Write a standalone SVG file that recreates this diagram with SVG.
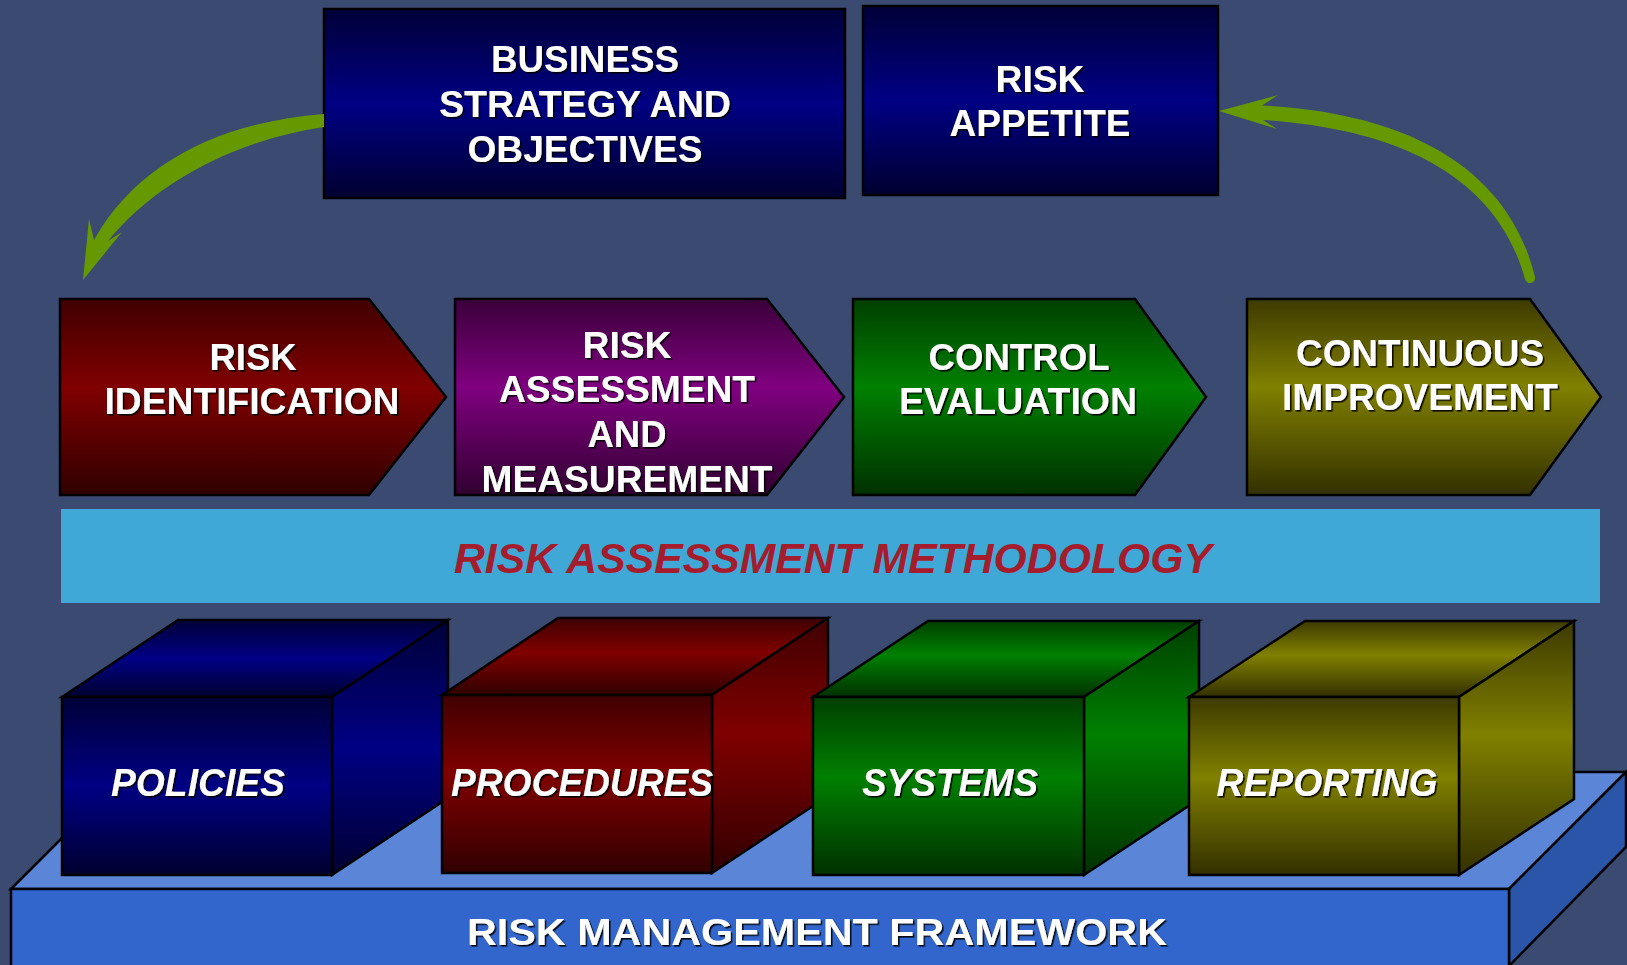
<svg xmlns="http://www.w3.org/2000/svg" width="1627" height="965" viewBox="0 0 1627 965">
  <defs>
    <!-- vertical "tube" shading: dark edges, bright middle -->
    <linearGradient id="gNavy" x1="0" y1="0" x2="0" y2="1">
      <stop offset="0" stop-color="#000038"/>
      <stop offset="0.5" stop-color="#000084"/>
      <stop offset="1" stop-color="#000030"/>
    </linearGradient>
    <linearGradient id="gRed" x1="0" y1="0" x2="0" y2="1">
      <stop offset="0" stop-color="#400000"/>
      <stop offset="0.45" stop-color="#800000"/>
      <stop offset="1" stop-color="#300000"/>
    </linearGradient>
    <linearGradient id="gPurple" x1="0" y1="0" x2="0" y2="1">
      <stop offset="0" stop-color="#3a003a"/>
      <stop offset="0.45" stop-color="#800080"/>
      <stop offset="1" stop-color="#300030"/>
    </linearGradient>
    <linearGradient id="gGreen" x1="0" y1="0" x2="0" y2="1">
      <stop offset="0" stop-color="#003f00"/>
      <stop offset="0.45" stop-color="#008000"/>
      <stop offset="1" stop-color="#003000"/>
    </linearGradient>
    <linearGradient id="gOlive" x1="0" y1="0" x2="0" y2="1">
      <stop offset="0" stop-color="#3d3a00"/>
      <stop offset="0.45" stop-color="#808000"/>
      <stop offset="1" stop-color="#333000"/>
    </linearGradient>
    <filter id="shadow" x="-5%" y="-20%" width="110%" height="140%">
      <feDropShadow dx="1.6" dy="1.6" stdDeviation="0.3" flood-color="#000000" flood-opacity="0.9"/>
    </filter>
  </defs>
  <style>
    .edge { stroke: #000000; stroke-width: 2.5; stroke-linejoin: miter; }
    .lbl { font-family: "Liberation Sans", Arial, sans-serif; font-weight: bold; fill: #ffffff; text-anchor: middle; filter: url(#shadow); }
    .top { font-size: 36px; }
    .chev { font-size: 37.5px; }
    .cube { font-size: 39px; font-style: italic; }
    .base { font-size: 37px; }
    .method { font-family: "Liberation Sans", Arial, sans-serif; font-weight: bold; font-style: italic; font-size: 43px; fill: #A51D2D; text-anchor: middle; }
    .flow { fill: #669900; }
  </style>

  <rect x="0" y="0" width="1627" height="965" fill="#3B4A70"/>

  <!-- top row -->
  <g id="business-strategy">
    <rect x="324" y="9" width="521" height="189" fill="url(#gNavy)" class="edge"/>
    <text class="lbl top" x="585" y="72" textLength="188" lengthAdjust="spacingAndGlyphs">BUSINESS</text>
    <text class="lbl top" x="585" y="117" textLength="292" lengthAdjust="spacingAndGlyphs">STRATEGY AND</text>
    <text class="lbl top" x="585" y="162" textLength="235" lengthAdjust="spacingAndGlyphs">OBJECTIVES</text>
  </g>
  <g id="risk-appetite">
    <rect x="863" y="6" width="355" height="189" fill="url(#gNavy)" class="edge"/>
    <text class="lbl top" x="1040" y="92" textLength="89" lengthAdjust="spacingAndGlyphs">RISK</text>
    <text class="lbl top" x="1040" y="136" textLength="181" lengthAdjust="spacingAndGlyphs">APPETITE</text>
  </g>

  <!-- process chevrons -->
  <g id="risk-identification">
    <polygon points="60,299 369,299 446,397 369,495 60,495" fill="url(#gRed)" class="edge"/>
    <text class="lbl chev" x="253" y="370" textLength="87" lengthAdjust="spacingAndGlyphs">RISK</text>
    <text class="lbl chev" x="252" y="414" textLength="295" lengthAdjust="spacingAndGlyphs">IDENTIFICATION</text>
  </g>
  <g id="risk-assessment">
    <polygon points="455,299 767,299 844,397 767,495 455,495" fill="url(#gPurple)" class="edge"/>
    <text class="lbl chev" x="627" y="358" textLength="89" lengthAdjust="spacingAndGlyphs">RISK</text>
    <text class="lbl chev" x="627" y="402" textLength="256" lengthAdjust="spacingAndGlyphs">ASSESSMENT</text>
    <text class="lbl chev" x="627" y="447" textLength="79" lengthAdjust="spacingAndGlyphs">AND</text>
    <text class="lbl chev" x="627" y="492" textLength="291" lengthAdjust="spacingAndGlyphs">MEASUREMENT</text>
  </g>
  <g id="control-evaluation">
    <polygon points="853,299 1135,299 1206,397 1135,495 853,495" fill="url(#gGreen)" class="edge"/>
    <text class="lbl chev" x="1019" y="370" textLength="181" lengthAdjust="spacingAndGlyphs">CONTROL</text>
    <text class="lbl chev" x="1018" y="414" textLength="238" lengthAdjust="spacingAndGlyphs">EVALUATION</text>
  </g>
  <g id="continuous-improvement">
    <polygon points="1247,299 1530,299 1601,397 1530,495 1247,495" fill="url(#gOlive)" class="edge"/>
    <text class="lbl chev" x="1420" y="366" textLength="248" lengthAdjust="spacingAndGlyphs">CONTINUOUS</text>
    <text class="lbl chev" x="1420" y="410" textLength="276" lengthAdjust="spacingAndGlyphs">IMPROVEMENT</text>
  </g>

  <!-- methodology band -->
  <g id="methodology">
    <rect x="61" y="509" width="1539" height="94" fill="#3FA8D7"/>
    <text class="method" x="833" y="573" textLength="758" lengthAdjust="spacingAndGlyphs">RISK ASSESSMENT METHODOLOGY</text>
  </g>

  <!-- framework platform -->
  <g id="framework">
    <polygon points="11,889 128,772 1626,772 1509,889" fill="#5B86D8" class="edge"/>
    <polygon points="1509,889 1626,772 1626,847 1509,966" fill="#2A55A8" class="edge"/>
    <rect x="11" y="889" width="1498" height="80" fill="#3366CC" class="edge"/>
    <text class="lbl base" x="817" y="945" textLength="700" lengthAdjust="spacingAndGlyphs">RISK MANAGEMENT FRAMEWORK</text>
  </g>

  <!-- building blocks -->
  <g id="policies">
    <polygon points="62,697 178,620 448,620 332,697" fill="url(#gNavy)" class="edge"/>
    <polygon points="332,697 448,620 448,798 332,875" fill="url(#gNavy)" class="edge"/>
    <rect x="62" y="697" width="270" height="178" fill="url(#gNavy)" class="edge"/>
    <text class="lbl cube" x="198" y="796" textLength="174" lengthAdjust="spacingAndGlyphs">POLICIES</text>
  </g>
  <g id="procedures">
    <polygon points="442,695 558,618 828,618 712,695" fill="url(#gRed)" class="edge"/>
    <polygon points="712,695 828,618 828,796 712,873" fill="url(#gRed)" class="edge"/>
    <rect x="442" y="695" width="270" height="178" fill="url(#gRed)" class="edge"/>
    <text class="lbl cube" x="582" y="796" textLength="262" lengthAdjust="spacingAndGlyphs">PROCEDURES</text>
  </g>
  <g id="systems">
    <polygon points="813,697 928,621 1199,621 1084,697" fill="url(#gGreen)" class="edge"/>
    <polygon points="1084,697 1199,621 1199,799 1084,875" fill="url(#gGreen)" class="edge"/>
    <rect x="813" y="697" width="271" height="178" fill="url(#gGreen)" class="edge"/>
    <text class="lbl cube" x="950" y="796" textLength="176" lengthAdjust="spacingAndGlyphs">SYSTEMS</text>
  </g>
  <g id="reporting">
    <polygon points="1189,697 1305,621 1574,621 1459,697" fill="url(#gOlive)" class="edge"/>
    <polygon points="1459,697 1574,621 1574,799 1459,875" fill="url(#gOlive)" class="edge"/>
    <rect x="1189" y="697" width="270" height="178" fill="url(#gOlive)" class="edge"/>
    <text class="lbl cube" x="1327" y="796" textLength="221" lengthAdjust="spacingAndGlyphs">REPORTING</text>
  </g>

  <!-- curved feedback arrows -->
  <g id="connectors">
    <path class="flow" d="M 324 114 C 222 122 138 162 94 240 L 89 219 L 83 280 L 122 232 L 108 241 C 156 182 236 140 324 127 Z"/>
    <path class="flow" d="M 1262 105.5 C 1392 112 1506 158 1535 277 A 5 5 0 0 1 1525 279 C 1495 170 1388 128 1263 120 L 1277 129 L 1219 111 L 1278 95 Z"/>
  </g>
</svg>
